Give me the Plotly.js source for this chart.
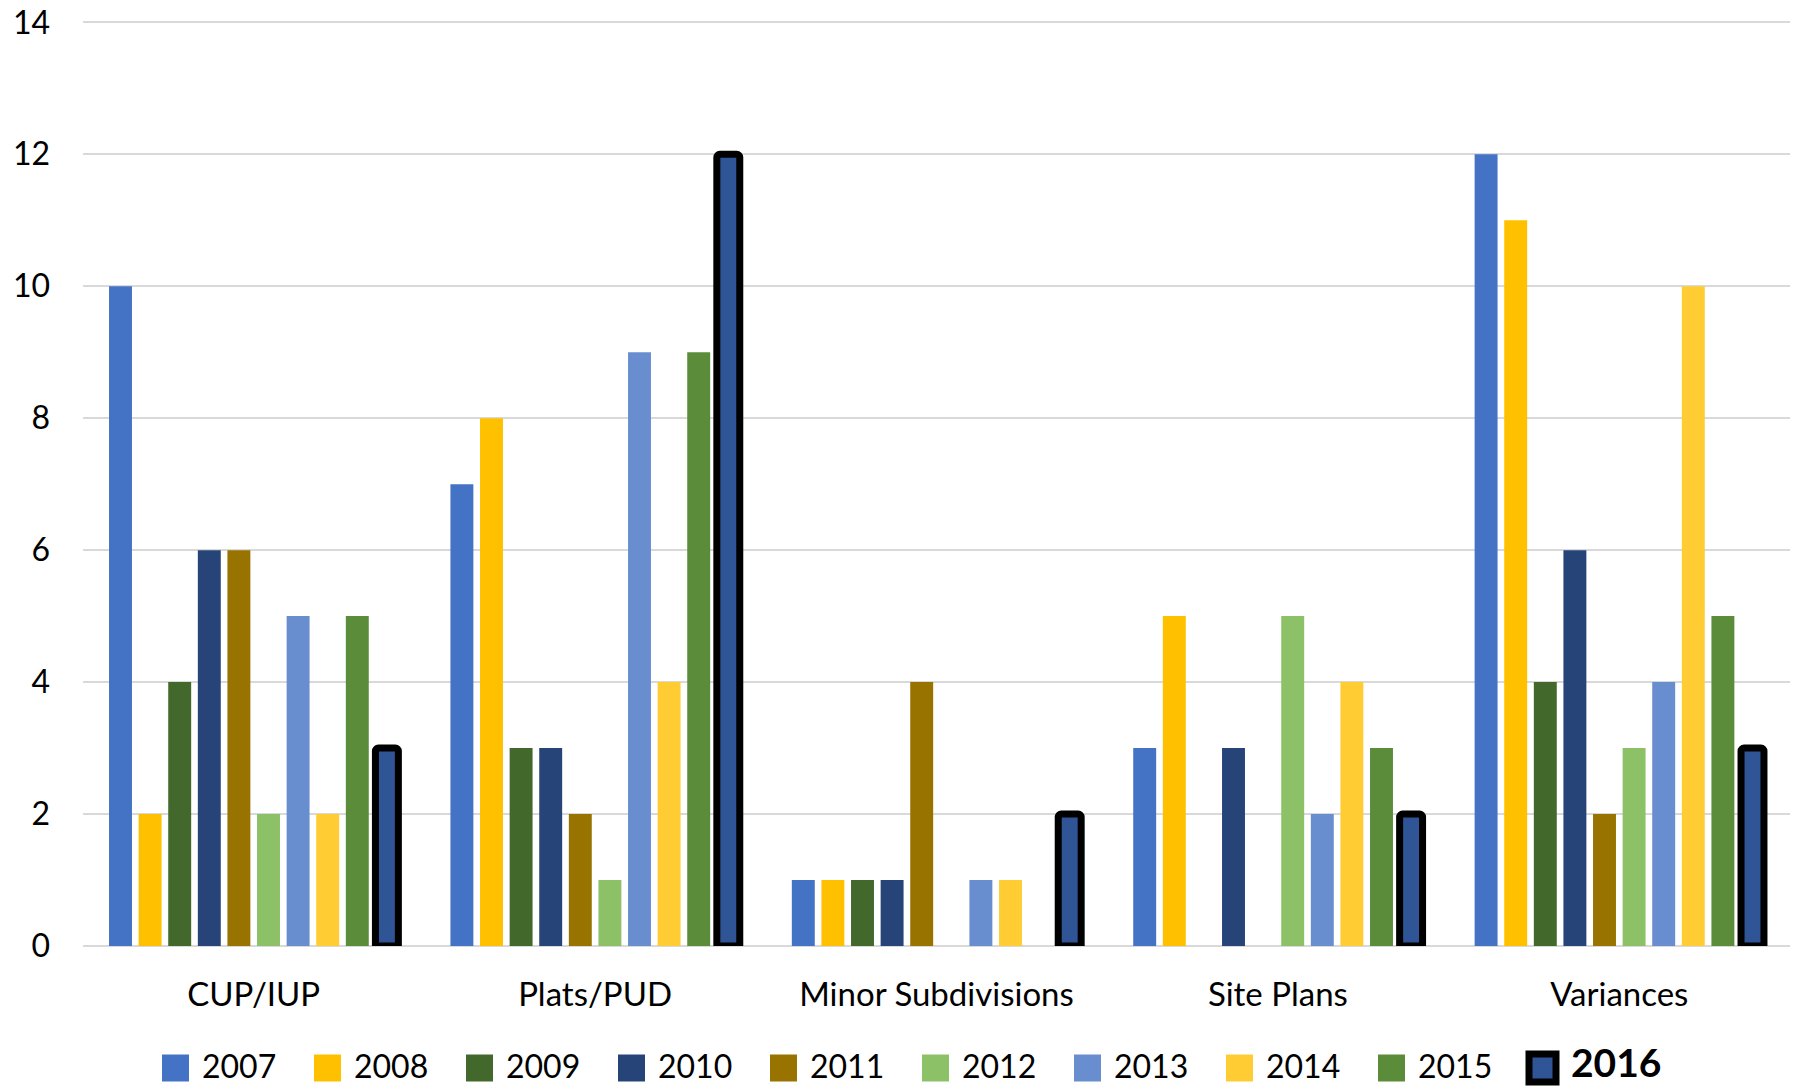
<!DOCTYPE html>
<html>
<head>
<meta charset="utf-8">
<script src="https://cdn.plot.ly/plotly-3.0.1.min.js"></script>
<style>
  html, body { margin: 0; padding: 0; background: #ffffff; }
  #chart { width: 1810px; height: 1087px; }
</style>
</head>
<body>
<div id="chart"></div>
<script>
// Application counts per category, one series per year
const categories = ['CUP/IUP', 'Plats/PUD', 'Minor Subdivisions', 'Site Plans', 'Variances'];
const years = ['2007', '2008', '2009', '2010', '2011', '2012', '2013', '2014', '2015', '2016'];

const v2007 = [10, 7, 1, 3, 12];
const v2008 = [2, 8, 1, 5, 11];
const v2009 = [4, 3, 1, 0, 4];
const v2010 = [6, 3, 1, 3, 6];
const v2011 = [6, 2, 4, 0, 2];
const v2012 = [2, 1, 0, 5, 3];
const v2013 = [5, 9, 1, 2, 4];
const v2014 = [2, 4, 1, 4, 10];
const v2015 = [5, 9, 0, 3, 5];
const v2016 = [3, 12, 2, 2, 3];

const yTicks = [0, 2, 4, 6, 8, 10, 12, 14];

const seriesValues = [v2007, v2008, v2009, v2010, v2011, v2012, v2013, v2014, v2015, v2016];
const seriesColors = ['#4472C4', '#FFC000', '#43682B', '#264478', '#997300',
                      '#8CC168', '#698ED0', '#FFCD33', '#5B8C39', '#2F5597'];

const FONT = 'Lato, "Open Sans", "Liberation Sans", sans-serif';
const highlightIndex = years.length - 1;   // latest year is outlined

const traces = years.map((yr, i) => {
  const isLatest = i === highlightIndex;
  return {
    type: 'bar',
    name: yr,
    x: categories,
    y: seriesValues[i],
    marker: {
      color: seriesColors[i],
      line: { color: '#000000', width: isLatest ? 7 : 0 },
      cornerradius: isLatest ? 3 : 0
    },
    cliponaxis: false,
    showlegend: false,
    hoverinfo: 'x+y+name'
  };
});

// Plot-area geometry in pixels, used to place the custom legend below it
const W = 1810, H = 1087;
const M = { l: 83, r: 20, t: 19, b: 141 };
const plotW = W - M.l - M.r;
const plotH = H - M.t - M.b;
const px2x = px => (px - M.l) / plotW;
const py2y = py => (H - M.b - py) / plotH;

const shapes = [];
const annotations = [];
const swatchCenterY = 1068;
const textCenterY = 1065;
const swatch = 27;
const pitch = 152;
const firstLeft = 162;

years.forEach((yr, i) => {
  const isLatest = i === highlightIndex;
  const left = firstLeft + pitch * i;
  if (isLatest) {
    const x0 = left - 1, x1 = left + 26, y0 = swatchCenterY - 14, y1 = swatchCenterY + 14;
    shapes.push({
      type: 'rect', xref: 'paper', yref: 'paper',
      x0: px2x(x0), x1: px2x(x1), y0: py2y(y1), y1: py2y(y0),
      fillcolor: seriesColors[i],
      line: { color: '#000000', width: 7 }
    });
    annotations.push({
      xref: 'paper', yref: 'paper', x: px2x(left + 39), y: py2y(1087),
      xanchor: 'left', yanchor: 'bottom', showarrow: false,
      text: '<b>' + yr + '</b>',
      font: { family: FONT, size: 39, color: '#000000' }
    });
  } else {
    shapes.push({
      type: 'rect', xref: 'paper', yref: 'paper',
      x0: px2x(left), x1: px2x(left + swatch),
      y0: py2y(swatchCenterY + swatch / 2), y1: py2y(swatchCenterY - swatch / 2),
      fillcolor: seriesColors[i],
      line: { width: 0 }
    });
    annotations.push({
      xref: 'paper', yref: 'paper', x: px2x(left + 38), y: py2y(textCenterY),
      xanchor: 'left', yanchor: 'middle', showarrow: false,
      text: yr,
      font: { family: FONT, size: 32, color: '#000000' }
    });
  }
});

const layout = {
  width: W,
  height: H,
  margin: M,
  paper_bgcolor: '#ffffff',
  plot_bgcolor: '#ffffff',
  font: { family: FONT, size: 32, color: '#000000' },
  barmode: 'group',
  bargap: 0.133,
  bargroupgap: 0.225,
  showlegend: false,
  xaxis: {
    type: 'category',
    showgrid: false,
    showline: false,
    ticks: '',
    ticklabelstandoff: 26,
    tickfont: { family: FONT, size: 33, color: '#000000' }
  },
  yaxis: {
    range: [0, 14.05],
    tickvals: yTicks,
    ticktext: yTicks.map(String),
    showgrid: true,
    gridcolor: '#D9D9D9',
    gridwidth: 2,
    zeroline: true,
    zerolinecolor: '#D9D9D9',
    zerolinewidth: 2,
    showline: false,
    ticks: '',
    ticklabelstandoff: 32,
    tickfont: { family: FONT, size: 32, color: '#000000' }
  },
  shapes: shapes,
  annotations: annotations
};

Plotly.newPlot('chart', traces, layout, { displayModeBar: false, staticPlot: true });
</script>
</body>
</html>
